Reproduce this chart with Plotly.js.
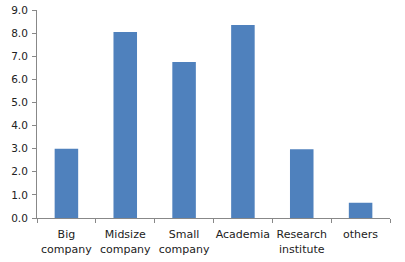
<!DOCTYPE html>
<html><head><meta charset="utf-8">
<script src="https://cdn.plot.ly/plotly-3.0.1.min.js"></script>
<style>html,body{margin:0;padding:0;background:#fff}</style>
</head><body>
<div id="chart" style="width:405px;height:262px"></div>
<script>
const categories = ["Big<br>company", "Midsize<br>company", "Small<br>company", "Academia", "Research<br>institute", "others"];
const values = [3.0, 8.05, 6.75, 8.35, 2.98, 0.66];
const yTickVals = [0, 1, 2, 3, 4, 5, 6, 7, 8, 9];
const yTickText = ["0.0", "1.0", "2.0", "3.0", "4.0", "5.0", "6.0", "7.0", "8.0", "9.0"];

Plotly.newPlot("chart", [{
  type: "bar",
  x: categories,
  y: values,
  marker: {color: "#4F81BD"},
  hoverinfo: "none"
}], {
  width: 405, height: 262,
  margin: {l: 37, r: 15, t: 10, b: 44},
  paper_bgcolor: "#fff", plot_bgcolor: "#fff",
  bargap: 0.6,
  showlegend: false,
  font: {family: "DejaVu Sans", size: 10.5, color: "#222"},
  xaxis: {
    type: "category",
    showgrid: false, zeroline: false,
    showline: true, linecolor: "#888", linewidth: 1,
    ticks: "outside", ticklen: 4, tickcolor: "#888",
    tickson: "boundaries",
    tickangle: 0,
    ticklabelstandoff: 6,
    tickfont: {family: "DejaVu Sans", size: 11, color: "#222"}
  },
  yaxis: {
    range: [0, 9],
    tickvals: yTickVals, ticktext: yTickText,
    showgrid: false, zeroline: false,
    showline: true, linecolor: "#888", linewidth: 1,
    ticks: "outside", ticklen: 4, tickcolor: "#888",
    ticklabelstandoff: 2,
    tickfont: {family: "DejaVu Sans", size: 10.5, color: "#222"}
  }
}, {displayModeBar: false, staticPlot: true});
</script>
</body></html>
